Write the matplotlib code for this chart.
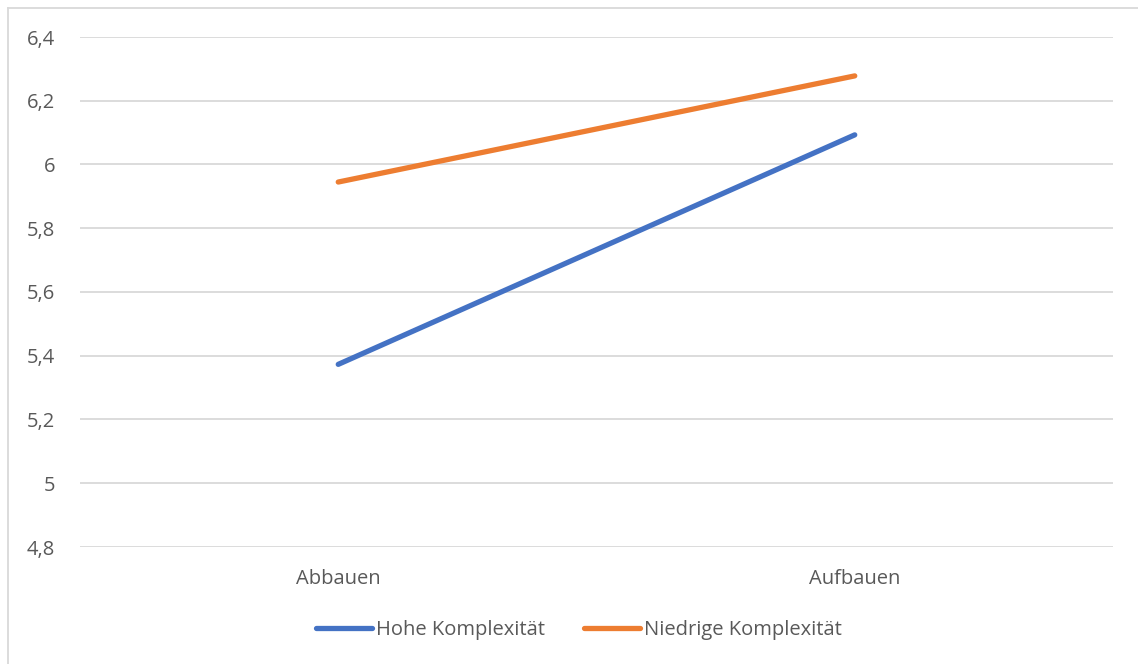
import matplotlib.pyplot as plt
from matplotlib.lines import Line2D

categories = ['Abbauen', 'Aufbauen']
hohe = [5.373, 6.093]
niedrige = [5.945, 6.278]
series_names = ['Hohe Komplexität', 'Niedrige Komplexität']
yticks = [4.8, 5.0, 5.2, 5.4, 5.6, 5.8, 6.0, 6.2, 6.4]
ytick_labels = ['4,8', '5', '5,2', '5,4', '5,6', '5,8', '6', '6,2', '6,4']


def main():
    plt.rcParams['font.family'] = ['Open Sans', 'DejaVu Sans']
    text_color = '#595959'
    grid_color = '#d9d9d9'

    fig = plt.figure(figsize=(11.38, 6.64), dpi=100)
    ax = fig.add_axes([80 / 1138, 117 / 664, 1033 / 1138, 510 / 664])

    x = range(len(categories))
    ax.plot(x, hohe, color='#4472c4', lw=3.8, solid_capstyle='round', label=series_names[0])
    ax.plot(x, niedrige, color='#ed7d31', lw=3.8, solid_capstyle='round', label=series_names[1])

    ax.set_xlim(-0.5, 1.5)
    ax.set_ylim(4.8, 6.4)
    ax.set_yticks(yticks)
    ax.set_yticklabels(ytick_labels)
    ax.set_xticks(list(x))
    ax.set_xticklabels(categories)
    ax.tick_params(axis='both', length=0, labelsize=14.5, colors=text_color)
    ax.tick_params(axis='y', pad=18)
    ax.tick_params(axis='x', pad=16)
    ax.grid(axis='y', color=grid_color, lw=1.3)
    ax.set_axisbelow(True)
    for s in ax.spines.values():
        s.set_visible(False)

    ax.legend(loc='center', bbox_to_anchor=(579 / 1138, 34 / 664), bbox_transform=fig.transFigure,
              ncol=2, frameon=False, fontsize=14.5, handlelength=2.8, handletextpad=0.2,
              columnspacing=1.9, labelcolor=text_color)

    # Rahmen links und oben
    fig.add_artist(Line2D([8 / 1138, 8 / 1138], [0, 656 / 664], color=grid_color, lw=1.3,
                          transform=fig.transFigure))
    fig.add_artist(Line2D([8 / 1138, 1], [656 / 664, 656 / 664], color=grid_color, lw=1.3,
                          transform=fig.transFigure))

    plt.savefig('out.png', dpi=100)
    plt.close()


if __name__ == "__main__":
    main()
